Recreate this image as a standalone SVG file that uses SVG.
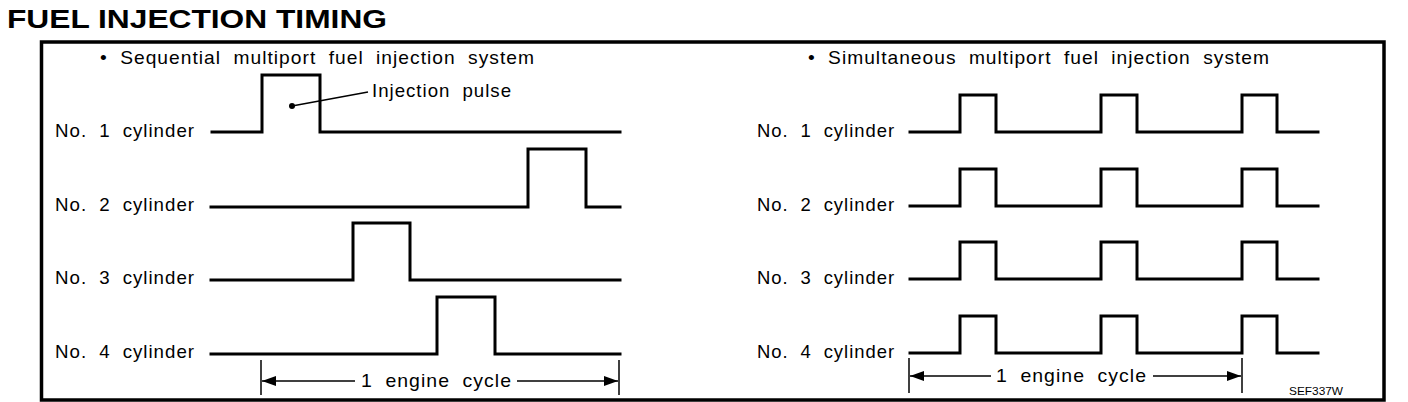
<svg xmlns="http://www.w3.org/2000/svg" width="1408" height="402" viewBox="0 0 1408 402">
<style>
text{font-family:"Liberation Sans",Arial,sans-serif;fill:#000}
.t{font-size:19px;letter-spacing:1px;word-spacing:6px}
.title{font-size:25px;font-weight:bold}
.sig{fill:none;stroke:#000;stroke-width:3;stroke-linejoin:miter;stroke-linecap:square}
.dim{fill:none;stroke:#000;stroke-width:1.5}
.code{font-size:11.5px}
</style>
<defs>
<marker id="ah" markerUnits="userSpaceOnUse" markerWidth="14" markerHeight="12" refX="14" refY="6" orient="auto-start-reverse" viewBox="0 0 14 12">
<path d="M0,1 L14,6 L0,11 Z" fill="#000"/>
</marker>
</defs>
<rect width="1408" height="402" fill="#fff"/>
<g id="title"><text class="title" x="7" y="28" textLength="380" lengthAdjust="spacingAndGlyphs">FUEL INJECTION TIMING</text></g>
<g id="frame"><rect x="41.5" y="42" width="1342.5" height="358" fill="none" stroke="#000" stroke-width="3.5"/></g>

<g id="sequential">
<text class="t" x="100" y="64" textLength="435" lengthAdjust="spacingAndGlyphs">• Sequential multiport fuel injection system</text>
<g id="seq-cyl1"><text class="t" x="55" y="137" textLength="140" lengthAdjust="spacingAndGlyphs">No. 1 cylinder</text>
<path class="sig" d="M212 132 H262 V75 H320 V132 H620"/></g>
<g id="seq-cyl2"><text class="t" x="55" y="211" textLength="140" lengthAdjust="spacingAndGlyphs">No. 2 cylinder</text>
<path class="sig" d="M211 207 H528 V149 H586 V207 H620"/></g>
<g id="seq-cyl3"><text class="t" x="55" y="284" textLength="140" lengthAdjust="spacingAndGlyphs">No. 3 cylinder</text>
<path class="sig" d="M211 280 H353 V223 H410 V280 H620"/></g>
<g id="seq-cyl4"><text class="t" x="55" y="358" textLength="140" lengthAdjust="spacingAndGlyphs">No. 4 cylinder</text>
<path class="sig" d="M211 354 H437 V297 H495 V354 H620"/></g>
<g id="injection-pulse-label"><text class="t" x="372" y="97" textLength="140" lengthAdjust="spacingAndGlyphs">Injection pulse</text></g>
</g>

<g id="simultaneous">
<text class="t" x="808" y="64" textLength="462" lengthAdjust="spacingAndGlyphs">• Simultaneous multiport fuel injection system</text>
<g id="sim-cyl1"><text class="t" x="757" y="137" textLength="138" lengthAdjust="spacingAndGlyphs">No. 1 cylinder</text>
<path class="sig" d="M910 132 H960 V95 H996 V132 H1101 V95 H1137 V132 H1242 V95 H1277 V132 H1318"/></g>
<g id="sim-cyl2"><text class="t" x="757" y="211" textLength="138" lengthAdjust="spacingAndGlyphs">No. 2 cylinder</text>
<path class="sig" d="M910 206 H960 V169 H996 V206 H1101 V169 H1137 V206 H1242 V169 H1277 V206 H1318"/></g>
<g id="sim-cyl3"><text class="t" x="757" y="284" textLength="138" lengthAdjust="spacingAndGlyphs">No. 3 cylinder</text>
<path class="sig" d="M910 279 H960 V242 H996 V279 H1101 V242 H1137 V279 H1242 V242 H1277 V279 H1318"/></g>
<g id="sim-cyl4"><text class="t" x="757" y="358" textLength="138" lengthAdjust="spacingAndGlyphs">No. 4 cylinder</text>
<path class="sig" d="M910 353 H960 V316 H996 V353 H1101 V316 H1137 V353 H1242 V316 H1277 V353 H1318"/></g>
<text class="code" x="1289" y="395" textLength="54" lengthAdjust="spacingAndGlyphs">SEF337W</text>
</g>

<g id="connectors">
<circle cx="292" cy="106" r="3" fill="#000"/>
<line class="dim" x1="292" y1="106" x2="368" y2="92"/>
<line class="dim" x1="261" y1="360" x2="261" y2="395"/>
<line class="dim" x1="619" y1="360" x2="619" y2="395"/>
<line class="dim" x1="355" y1="381" x2="262" y2="381" marker-end="url(#ah)"/>
<line class="dim" x1="517" y1="381" x2="618" y2="381" marker-end="url(#ah)"/>
<text class="t" x="361" y="387" textLength="151" lengthAdjust="spacingAndGlyphs">1 engine cycle</text>
<line class="dim" x1="909" y1="358" x2="909" y2="393"/>
<line class="dim" x1="1242" y1="358" x2="1242" y2="393"/>
<line class="dim" x1="991" y1="376" x2="910" y2="376" marker-end="url(#ah)"/>
<line class="dim" x1="1153" y1="376" x2="1241" y2="376" marker-end="url(#ah)"/>
<text class="t" x="996" y="382" textLength="151" lengthAdjust="spacingAndGlyphs">1 engine cycle</text>
</g>
</svg>
